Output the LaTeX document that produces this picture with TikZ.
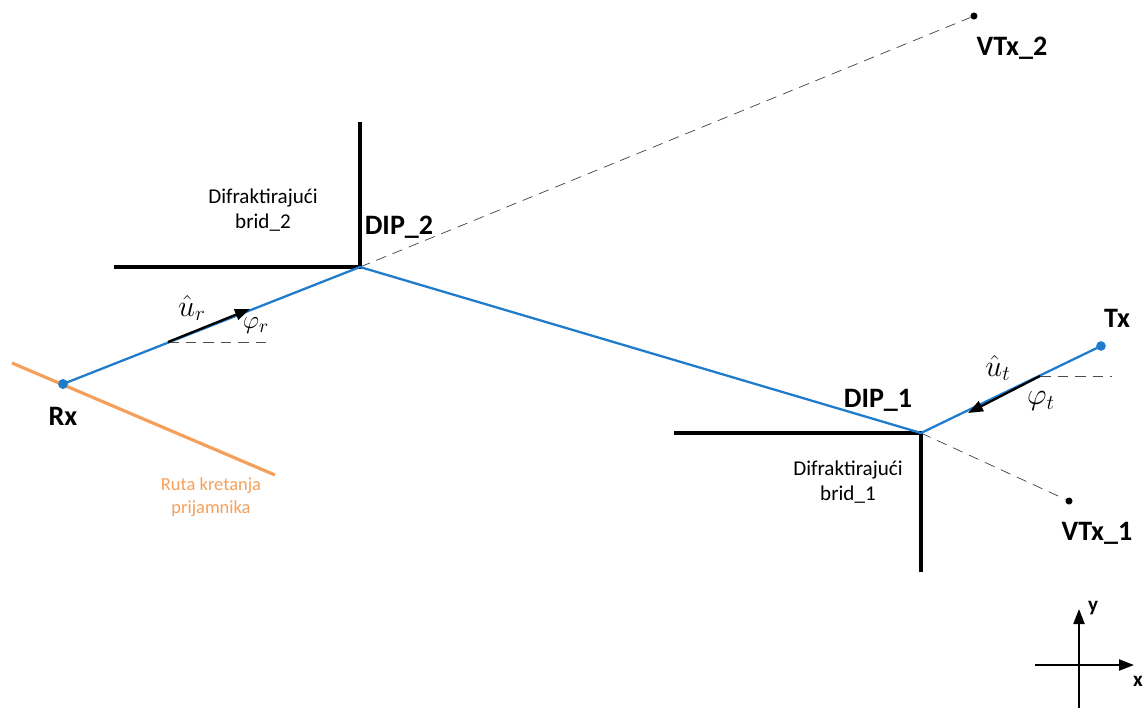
\documentclass[tikz,border=0pt]{standalone}
\usepackage{fontspec}
\setmainfont{Carlito}
\usepackage{tikz}
\usetikzlibrary{arrows.meta,positioning,calc}
\definecolor{RayBlue}{HTML}{1F7BCB}
\definecolor{RouteOrange}{HTML}{F5A05A}
\colorlet{WallBlack}{black}

\begin{document}
\begin{tikzpicture}[
    x=0.02cm,y=-0.02cm,
    >={Triangle[length=3mm,width=2.2mm]},
    wall/.style={line width=2pt,WallBlack},
    ray/.style={line width=1.3pt,RayBlue},
    route/.style={line width=1.8pt,RouteOrange},
    image/.style={thin,dash pattern=on 6pt off 4pt,black!75},
    ref/.style={thin,dash pattern=on 6pt off 4pt,black!70},
    unitvec/.style={line width=1.3pt,->,black},
    pointlbl/.style={font=\bfseries\fontsize{16}{19}\selectfont},
    edgelbl/.style={align=center,font=\large},
    mathlbl/.style={inner sep=0pt,font=\fontsize{17}{20}\selectfont},
    anglelbl/.style={inner sep=0pt,font=\fontsize{15}{18}\selectfont},
    dot/.style={circle,fill,inner sep=0pt,minimum size=5.5pt}
  ]
    \useasboundingbox (0,0) rectangle (1147,708);

    % points
    \node[dot,RayBlue] (rx) at (63,384) {};
    \node[dot,RayBlue] (tx) at (1101,346) {};
    \coordinate (dip2) at (360,267);
    \coordinate (dip1) at (921,433);
    \node[dot,black,minimum size=4pt] (vtx2) at (974,16) {};
    \node[dot,black,minimum size=4pt] (vtx1) at (1069,501) {};

    % edges
    \coordinate (edge2top) at (360,122);
    \coordinate (edge2left) at (114,267);
    \coordinate (edge1left) at (674,433);
    \coordinate (edge1bot) at (921,572);
    \draw[wall] (edge2top) -- (dip2) -- (edge2left);
    \draw[wall] (edge1left) -- (dip1) -- (edge1bot);

    % receiver route
    \coordinate (routeA) at (12,363);
    \coordinate (routeB) at (275,475);
    \draw[route] (routeA) -- (routeB);

    % virtual transmitters
    \draw[image] (dip2) -- (vtx2);
    \draw[image] (dip1) -- (vtx1);

    % path
    \draw[ray] (rx.center) -- (dip2) -- (dip1) -- (tx.center);
    \node[dot,RayBlue] at (rx) {};

    % unit vectors
    \coordinate (urA) at (168,342);
    \coordinate (urB) at (250,309);
    \coordinate (urRef) at (270,342);
    \draw[ref] (urA) -- (urRef);
    \draw[unitvec] (urA) -- (urB);
    \coordinate (utA) at (1040,376);
    \coordinate (utB) at (968,413);
    \coordinate (utRef) at (1112,376);
    \draw[ref] (utA) -- (utRef);
    \draw[unitvec] (utA) -- (utB);

    % labels
    \node[pointlbl] (rxlbl) at (63,416) {Rx};
    \node[pointlbl] (txlbl) at (1117,318) {Tx};
    \node[pointlbl] (dip2lbl) at (399,227) {DIP\_2};
    \node[pointlbl] (dip1lbl) at (878,400) {DIP\_1};
    \node[pointlbl] (vtx2lbl) at (1012,48) {VTx\_2};
    \node[pointlbl] (vtx1lbl) at (1097,533) {VTx\_1};
    \node[edgelbl] (brid2) at (263,210) {Difraktirajući\\brid\_2};
    \node[edgelbl] (brid1) at (848,482) {Difraktirajući\\brid\_1};
    \node[align=center,font=\fontsize{10.5}{13}\selectfont,RouteOrange] (routelbl) at (211,497) {Ruta kretanja\\prijamnika};
    \node[mathlbl] (urlbl) at (192,308) {$\hat{u}_r$};
    \node[anglelbl] (phirlbl) at (256,326) {$\varphi_r$};
    \node[mathlbl] (utlbl) at (998,368) {$\hat{u}_t$};
    \node[mathlbl] (phitlbl) at (1041,401) {$\varphi_t$};

    % axes
    \coordinate (axL) at (1035,665);
    \coordinate (axR) at (1134,665);
    \coordinate (axB) at (1079,708);
    \coordinate (axT) at (1079,609);
    \draw[line width=1.2pt,->] (axL) -- (axR);
    \draw[line width=1.2pt,->] (axB) -- (axT);
    \node[font=\bfseries\large] (ylbl) at (1093,608) {y};
    \node[font=\bfseries\large] (xlbl) at (1138,681) {x};
  \end{tikzpicture}
\end{document}
